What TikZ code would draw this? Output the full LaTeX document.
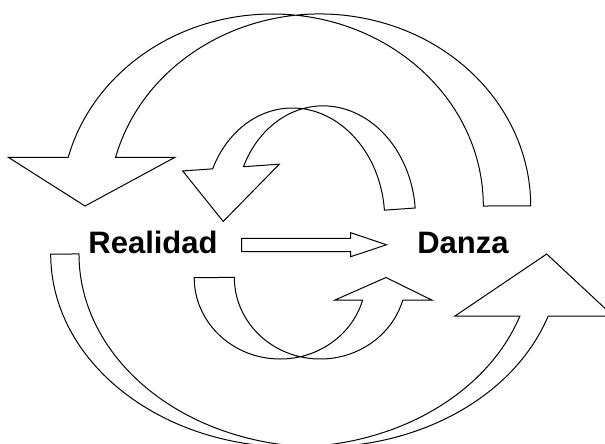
\documentclass[tikz,border=0pt]{standalone}
\usepackage{fontspec}
\setmainfont{Liberation Sans}
\begin{document}
\begin{tikzpicture}[x=1pt,y=-1pt,
  band/.style={draw=black, line width=1pt, line join=miter},
  lbl/.style={font=\bfseries\fontsize{31}{36}\selectfont, inner sep=0pt, anchor=base}]
\useasboundingbox (0,0) rectangle (605,444);
\clip (0,0) rectangle (605,444);

% big top curved arrow (pointing down-left)
\draw[band] (483.3,206) arc[start angle=0, end angle=-165.31, x radius=211, y radius=192]
  -- (8.3,157.3) -- (85,206) -- (175,157.3) -- (115.6,157.3)
  arc[start angle=-165.31, end angle=0, x radius=211, y radius=192] -- cycle;

% big bottom curved arrow (pointing up-right)
\draw[band] (50.7,254) arc[start angle=180, end angle=18.74, x radius=241, y radius=193]
  -- (455,316) -- (546.7,254) -- (613.2,316) -- (548.2,316)
  arc[start angle=18.74, end angle=180, x radius=241, y radius=193] -- cycle;

% small upper curved arrow (slightly rotated)
\begin{scope}[rotate around={4:(300,190)}]
\draw[band] (382.8,216) arc[start angle=0, end angle=-150.64, x radius=90, y radius=108.5]
  -- (184.3,162.8) -- (221.2,216) -- (281.2,162.8) -- (245.2,162.8)
  arc[start angle=-150.64, end angle=0, x radius=90, y radius=108.5] -- cycle;
\end{scope}

% small lower curved arrow
\draw[band] (194.2,277.5) arc[start angle=180, end angle=16.03, x radius=85.9, y radius=81.5]
  -- (335,300) -- (386,277.5) -- (431.7,300) -- (402.8,300)
  arc[start angle=16.03, end angle=180, x radius=85.9, y radius=81.5] -- cycle;

% middle straight block arrow
\draw[band] (241.7,238.3) -- (350.7,238.3) -- (350.7,232.7) -- (386.5,244.8)
  -- (350.7,256.7) -- (350.7,251.7) -- (241.7,251.7) -- cycle;

\node[lbl] (real) at (153,253) {Realidad};
\node[lbl] (danza) at (463,253) {Danza};
\end{tikzpicture}
\end{document}
